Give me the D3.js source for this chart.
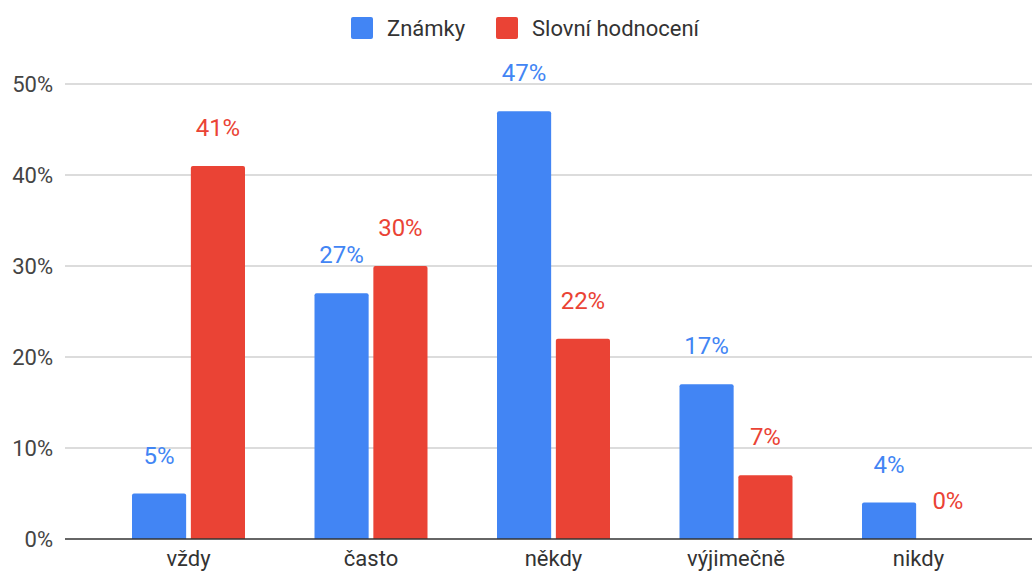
<!DOCTYPE html>
<html>
<head>
<meta charset="utf-8">
<script src="https://cdn.jsdelivr.net/npm/d3@7"></script>
<style>
  body { margin: 0; background: #fff; }
  svg { display: block; font-family: Roboto, Arial, sans-serif; }
</style>
</head>
<body>
<div id="chart"></div>
<script>
const categories = ["vždy", "často", "někdy", "výjimečně", "nikdy"];
const series = ["Známky", "Slovní hodnocení"];
const znamky = [5, 27, 47, 17, 4];
const slovni = [41, 30, 22, 7, 0];
const yTicks = [0, 10, 20, 30, 40, 50];
const colors = ["#4285f4", "#ea4335"];

const width = 1032, height = 571;

const svg = d3.select("#chart").append("svg")
  .attr("width", width)
  .attr("height", height);

const x0 = d3.scaleBand()
  .domain(categories)
  .range([97.25, 1009.75])
  .padding(0);

const x1 = d3.scaleBand()
  .domain(series)
  .range([-56.5, 56.5])
  .paddingInner(0.08);

const y = d3.scaleLinear()
  .domain([0, 50])
  .range([539, 84]);

// gridlines
svg.append("g")
  .selectAll("line")
  .data(yTicks.filter(d => d > 0))
  .enter().append("line")
    .attr("x1", 65).attr("x2", width)
    .attr("y1", d => y(d)).attr("y2", d => y(d))
    .attr("stroke", "#d0d0d0")
    .attr("stroke-width", 1.5);

// y tick labels
svg.append("g")
  .selectAll("text")
  .data(yTicks)
  .enter().append("text")
    .attr("x", 53)
    .attr("y", d => y(d))
    .attr("dy", "0.35em")
    .attr("text-anchor", "end")
    .attr("fill", "#444")
    .style("font-size", "22px")
    .text(d => d + "%");

const rows = categories.map((c, i) => ({cat: c, vals: [znamky[i], slovni[i]]}));

const groups = svg.append("g")
  .selectAll("g")
  .data(rows)
  .enter().append("g")
    .attr("transform", d => "translate(" + (x0(d.cat) + x0.bandwidth() / 2) + ",0)");

groups.selectAll("path")
  .data(d => d.vals.map((v, j) => ({s: series[j], v: v, j: j})))
  .enter().append("path")
    .filter(d => d.v > 0)
    .attr("d", d => {
      const bx = x1(d.s), bw = x1.bandwidth(), top = y(d.v), bot = y(0), r = 2;
      return "M" + bx + "," + bot + "V" + (top + r) + "Q" + bx + "," + top + " " + (bx + r) + "," + top +
        "H" + (bx + bw - r) + "Q" + (bx + bw) + "," + top + " " + (bx + bw) + "," + (top + r) + "V" + bot + "Z";
    })
    .attr("fill", d => colors[d.j]);

groups.selectAll("text")
  .data(d => d.vals.map((v, j) => ({s: series[j], v: v, j: j})))
  .enter().append("text")
    .attr("x", d => x1(d.s) + x1.bandwidth() / 2)
    .attr("y", d => y(d.v) - 30)
    .attr("text-anchor", "middle")
    .attr("fill", d => colors[d.j])
    .style("font-size", "24px")
    .text(d => d.v + "%");

// x axis baseline
svg.append("line")
  .attr("x1", 65).attr("x2", width)
  .attr("y1", y(0)).attr("y2", y(0))
  .attr("stroke", "#333")
  .attr("stroke-width", 1.5);

// x labels
svg.append("g")
  .selectAll("text")
  .data(categories)
  .enter().append("text")
    .attr("x", d => x0(d) + x0.bandwidth() / 2)
    .attr("y", 566)
    .attr("text-anchor", "middle")
    .attr("fill", "#333")
    .style("font-size", "22px")
    .text(d => d);

// legend
const legendX = [351, 496];
const legend = svg.append("g")
  .selectAll("g")
  .data(series)
  .enter().append("g")
    .attr("transform", (d, i) => "translate(" + legendX[i] + ",17)");

legend.append("rect")
  .attr("width", 22).attr("height", 22)
  .attr("rx", 2)
  .attr("fill", (d, i) => colors[i]);

legend.append("text")
  .attr("x", 36)
  .attr("y", 18.5)
  .attr("fill", "#333")
  .style("font-size", "22px")
  .text(d => d);
</script>
</body>
</html>
